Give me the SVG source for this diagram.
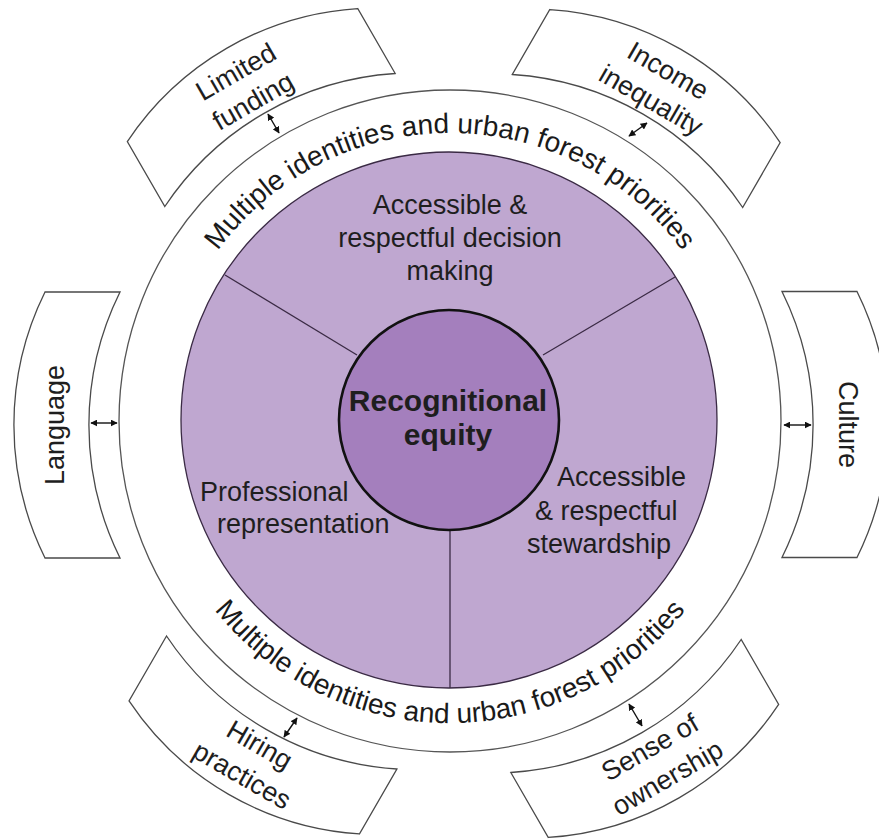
<svg xmlns="http://www.w3.org/2000/svg" width="879" height="840" viewBox="0 0 879 840">
<style>
.t{font-family:"Liberation Sans",Arial,sans-serif;font-size:27px;fill:#1e1e1e}
.band{font-family:"Liberation Sans",Arial,sans-serif;font-size:28px;fill:#1a1a1a}
.b{font-weight:bold;font-size:30px}
.box{fill:#fff;stroke:#4a4a4a;stroke-width:1.3}
.div{stroke:#3a2a44;stroke-width:1.3;fill:none}
.arr{stroke:#111;stroke-width:1.4;fill:none;marker-start:url(#ah);marker-end:url(#ah)}
</style>
<defs>
<marker id="ah" viewBox="0 0 10 10" refX="9" refY="5" markerWidth="7" markerHeight="7" markerUnits="userSpaceOnUse" orient="auto-start-reverse">
<path d="M0,0 L10,5 L0,10 Z" fill="#111"/>
</marker>
<path id="bx" d="M0,-133 L-75,-133 A300,300 0 0 0 -75,133 L0,133 A300,300 0 0 1 0,-133 Z"/>
<path id="topArc" d="M162,421 A288,288 0 0 1 738,421"/>
<path id="botArc" d="M148,421 A302,302 0 0 0 752,421"/>
</defs>
<rect width="879" height="840" fill="#fff"/>

<g id="outer-ring">
<circle cx="450" cy="421" r="331" fill="#fff" stroke="#555" stroke-width="1.3"/>
<text class="band"><textPath href="#topArc" startOffset="50%" text-anchor="middle">Multiple identities and urban forest priorities</textPath></text>
<text class="band"><textPath href="#botArc" startOffset="50%" text-anchor="middle">Multiple identities and urban forest priorities</textPath></text>
</g>

<g id="disk">
<circle cx="449" cy="420" r="268" fill="#BFA7D0" stroke="#3a2a44" stroke-width="1.3"/>
</g>

<g id="dividers">
<line class="div" x1="357" y1="355" x2="225" y2="275"/>
<line class="div" x1="543" y1="355" x2="675" y2="277"/>
<line class="div" x1="450" y1="528" x2="450" y2="688"/>
</g>

<g id="seg-decision">
<text class="t" x="450" y="214" text-anchor="middle">Accessible &amp;</text>
<text class="t" x="450" y="247" text-anchor="middle">respectful decision</text>
<text class="t" x="450" y="280" text-anchor="middle">making</text>
</g>
<g id="seg-professional">
<text class="t" x="200" y="501">Professional</text>
<text class="t" x="217" y="533">representation</text>
</g>
<g id="seg-stewardship">
<text class="t" x="557" y="486">Accessible</text>
<text class="t" x="535" y="520">&amp; respectful</text>
<text class="t" x="527" y="553">stewardship</text>
</g>

<g id="center">
<circle cx="449" cy="420" r="110" fill="#A47FBD" stroke="#111" stroke-width="2.6"/>
<text class="t b" x="448" y="411" text-anchor="middle">Recognitional</text>
<text class="t b" x="448" y="445" text-anchor="middle">equity</text>
</g>

<g id="box-language" transform="translate(120,425)">
<use href="#bx" class="box"/>
<text class="t" transform="rotate(-90)" x="0" y="-56.5" text-anchor="middle">Language</text>
</g>
<g id="box-culture" transform="translate(782,424.5) rotate(180)">
<use href="#bx" class="box"/>
<text class="t" transform="rotate(-90)" x="0" y="-56.5" text-anchor="middle">Culture</text>
</g>
<g id="box-funding" transform="translate(280,140) rotate(60)">
<use href="#bx" class="box"/>
<text class="t" transform="rotate(-90)" x="-4" y="-72" text-anchor="middle">Limited</text>
<text class="t" transform="rotate(-90)" x="-4" y="-38" text-anchor="middle">funding</text>
</g>
<g id="box-income" transform="translate(627.5,141) rotate(120)">
<use href="#bx" class="box"/>
<text class="t" transform="rotate(-90)" x="0" y="-72" text-anchor="middle">Income</text>
<text class="t" transform="rotate(-90)" x="0" y="-38" text-anchor="middle">inequality</text>
</g>
<g id="box-hiring" transform="translate(281.7,702.5) rotate(-60)">
<use href="#bx" class="box"/>
<text class="t" transform="rotate(90)" x="2" y="57" text-anchor="middle">Hiring</text>
<text class="t" transform="rotate(90)" x="2" y="92" text-anchor="middle">practices</text>
</g>
<g id="box-ownership" transform="translate(626,706) rotate(240)">
<use href="#bx" class="box"/>
<text class="t" transform="rotate(90)" x="0" y="57" text-anchor="middle">Sense of</text>
<text class="t" transform="rotate(90)" x="0" y="92" text-anchor="middle">ownership</text>
</g>

<g id="connectors">
<line class="arr" x1="91" y1="423" x2="117" y2="423"/>
<line class="arr" x1="784" y1="425" x2="811" y2="425"/>
<line class="arr" x1="268" y1="114" x2="279" y2="133"/>
<line class="arr" x1="629" y1="136" x2="647" y2="123"/>
<line class="arr" x1="284" y1="737" x2="297" y2="718"/>
<line class="arr" x1="629" y1="704" x2="642" y2="726"/>
</g>
</svg>
